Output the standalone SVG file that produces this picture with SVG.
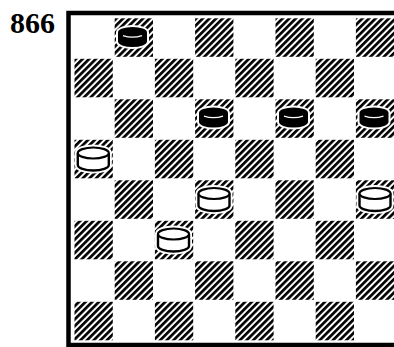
<svg xmlns="http://www.w3.org/2000/svg" width="394" height="347" viewBox="0 0 394 347">
  <defs>
    <pattern id="hatch" patternUnits="userSpaceOnUse" width="4.7" height="10" patternTransform="rotate(45)">
      <rect x="0" y="0" width="2.7" height="10" fill="#000"/>
    </pattern>
    <g id="whitePiece">
      <path d="M-15.5,-6 L-15.5,6 A15.5,5.5 0 0 0 15.5,6 L15.5,-6 A15.5,5.5 0 0 0 -15.5,-6 Z" fill="#fff" stroke="#fff" stroke-width="6"/>
      <path d="M-15.5,-6 L-15.5,6 A15.5,5.5 0 0 0 15.5,6 L15.5,-6" fill="#fff" stroke="#000" stroke-width="2.4"/>
      <ellipse cx="0" cy="-6" rx="15.5" ry="5.5" fill="#fff" stroke="#000" stroke-width="2.2"/>
    </g>
    <g id="blackPiece">
      <path d="M-14.5,-4.5 L-14.5,4.5 A14.5,5.5 0 0 0 14.5,4.5 L14.5,-4.5 A14.5,5.5 0 0 0 -14.5,-4.5 Z" fill="#000" stroke="#fff" stroke-width="4"/>
      <path d="M-14.5,-4.5 L-14.5,4.5 A14.5,5.5 0 0 0 14.5,4.5 L14.5,-4.5 A14.5,5.5 0 0 0 -14.5,-4.5 Z" fill="#000"/>
      <path d="M-9.5,-1.4 A14.5,5.5 0 0 0 9.5,-1.4" fill="none" stroke="#fff" stroke-width="1.2"/>
    </g>
  </defs>
  <style>
    .label { font-family: "Liberation Serif", "Times New Roman", serif; font-weight: bold; font-size: 29px; fill: #000; }
    .dark { fill: url(#hatch); }
    .frame { fill: none; stroke: #000; stroke-width: 4.5; }
  </style>
  <rect x="0" y="0" width="394" height="347" fill="#fff"/>
  <text class="label" x="10" y="32.5" textLength="45" lengthAdjust="spacingAndGlyphs">866</text>
  <g id="board">
    <path class="frame" d="M398,13 L68.5,13 L68.5,345 L398,345"/>
    <g id="squares">
      <rect class="dark" x="114.7" y="18.3" width="38.3" height="38.5"/>
      <rect class="dark" x="195.1" y="18.3" width="38.3" height="38.5"/>
      <rect class="dark" x="275.5" y="18.3" width="38.3" height="38.5"/>
      <rect class="dark" x="355.9" y="18.3" width="38.3" height="38.5"/>

      <rect class="dark" x="74.5" y="58.8" width="38.3" height="38.5"/>
      <rect class="dark" x="154.9" y="58.8" width="38.3" height="38.5"/>
      <rect class="dark" x="235.3" y="58.8" width="38.3" height="38.5"/>
      <rect class="dark" x="315.7" y="58.8" width="38.3" height="38.5"/>

      <rect class="dark" x="114.7" y="99.3" width="38.3" height="38.5"/>
      <rect class="dark" x="195.1" y="99.3" width="38.3" height="38.5"/>
      <rect class="dark" x="275.5" y="99.3" width="38.3" height="38.5"/>
      <rect class="dark" x="355.9" y="99.3" width="38.3" height="38.5"/>

      <rect class="dark" x="74.5" y="139.8" width="38.3" height="38.5"/>
      <rect class="dark" x="154.9" y="139.8" width="38.3" height="38.5"/>
      <rect class="dark" x="235.3" y="139.8" width="38.3" height="38.5"/>
      <rect class="dark" x="315.7" y="139.8" width="38.3" height="38.5"/>

      <rect class="dark" x="114.7" y="180.3" width="38.3" height="38.5"/>
      <rect class="dark" x="195.1" y="180.3" width="38.3" height="38.5"/>
      <rect class="dark" x="275.5" y="180.3" width="38.3" height="38.5"/>
      <rect class="dark" x="355.9" y="180.3" width="38.3" height="38.5"/>

      <rect class="dark" x="74.5" y="220.8" width="38.3" height="38.5"/>
      <rect class="dark" x="154.9" y="220.8" width="38.3" height="38.5"/>
      <rect class="dark" x="235.3" y="220.8" width="38.3" height="38.5"/>
      <rect class="dark" x="315.7" y="220.8" width="38.3" height="38.5"/>

      <rect class="dark" x="114.7" y="261.3" width="38.3" height="38.5"/>
      <rect class="dark" x="195.1" y="261.3" width="38.3" height="38.5"/>
      <rect class="dark" x="275.5" y="261.3" width="38.3" height="38.5"/>
      <rect class="dark" x="355.9" y="261.3" width="38.3" height="38.5"/>

      <rect class="dark" x="74.5" y="301.8" width="38.3" height="38.5"/>
      <rect class="dark" x="154.9" y="301.8" width="38.3" height="38.5"/>
      <rect class="dark" x="235.3" y="301.8" width="38.3" height="38.5"/>
      <rect class="dark" x="315.7" y="301.8" width="38.3" height="38.5"/>
    </g>
  </g>
  <g id="black-b8"><use href="#blackPiece" x="132.5" y="37"/></g>
  <g id="black-d6"><use href="#blackPiece" x="213.5" y="117.5"/></g>
  <g id="black-f6"><use href="#blackPiece" x="293.5" y="117.5"/></g>
  <g id="black-h6"><use href="#blackPiece" x="374" y="117.5"/></g>
  <g id="white-a5"><use href="#whitePiece" x="93.3" y="159"/></g>
  <g id="white-d4"><use href="#whitePiece" x="214" y="199.5"/></g>
  <g id="white-h4"><use href="#whitePiece" x="375" y="199.5"/></g>
  <g id="white-c3"><use href="#whitePiece" x="173.5" y="240"/></g>
</svg>
